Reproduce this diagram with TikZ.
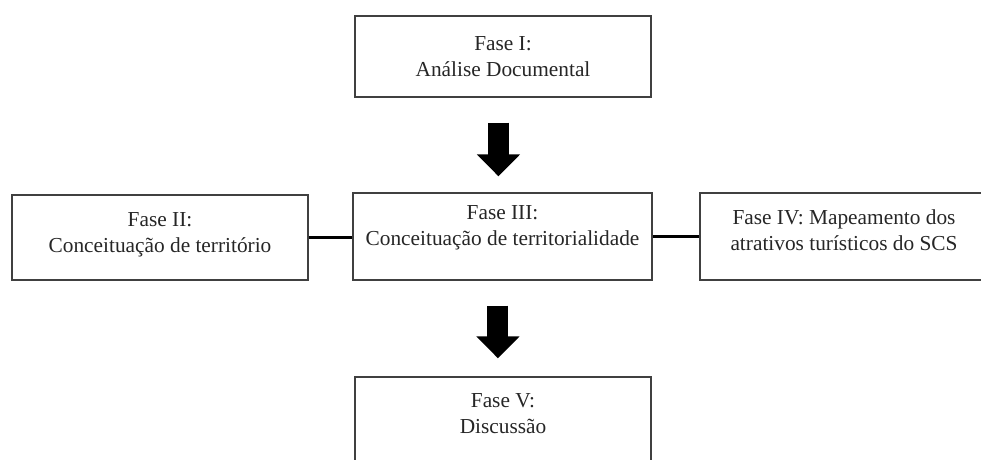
\documentclass[tikz,border=0pt]{standalone}
\usepackage{fontspec}
\setmainfont{Liberation Serif}
\usepackage{tikz}
\usetikzlibrary{%
	calc,%
	arrows.meta%
}

\begin{document}
\begin{tikzpicture}[x=0.75pt,y=-0.75pt,
		fase/.style={draw=black!75,line width=1pt,align=center,inner sep=0pt,
			text=black!85,font=\fontsize{16pt}{19.5pt}\selectfont},
		liga/.style={line width=2.25pt},
		seta/.style={line width=15.75pt,-{Triangle[length=16.5pt,width=31.5pt]},
			shorten <=18.75pt}]
			\clip (0,0) rectangle (981,460);
			\node[fase,minimum width=222pt,minimum height=60.75pt] (I) at (503,56.5)
			{Fase I:\\An\'alise Documental};
			\node[fase,minimum width=222pt,minimum height=63.75pt,text depth=7.5pt] (II) at (160,237.5)
			{Fase II:\\Conceitua\c{c}\~ao de territ\'orio};
			\node[fase,minimum width=224.25pt,minimum height=65.25pt,text depth=16pt] (III) at (502.5,236.5)
			{Fase III:\\Conceitua\c{c}\~ao de territorialidade};
			\node[fase,minimum width=216pt,minimum height=65.25pt,text depth=10pt] (IV) at (844,236.5)
			{Fase IV: Mapeamento dos\\atrativos tur\'isticos do SCS};
			\node[fase,minimum width=222pt,minimum height=63pt,text depth=7.5pt] (V) at (503,419)
			{Fase V:\\Discuss\~ao};
			% ligacoes entre as fases
			\draw [liga] (II.east) -- (II.east -| III.west)
			(III.east) -- (III.east -| IV.west);
			% setas
			\draw [seta,shorten >=12pt] ([xshift=-3.4pt]I.south) -- ([xshift=-3.4pt]I.south |- III.north);
			\draw [seta,shorten >=13.5pt] ([xshift=-3.4pt]III.south) -- ([xshift=-3.4pt]III.south |- V.north);
		\end{tikzpicture}
\end{document}
